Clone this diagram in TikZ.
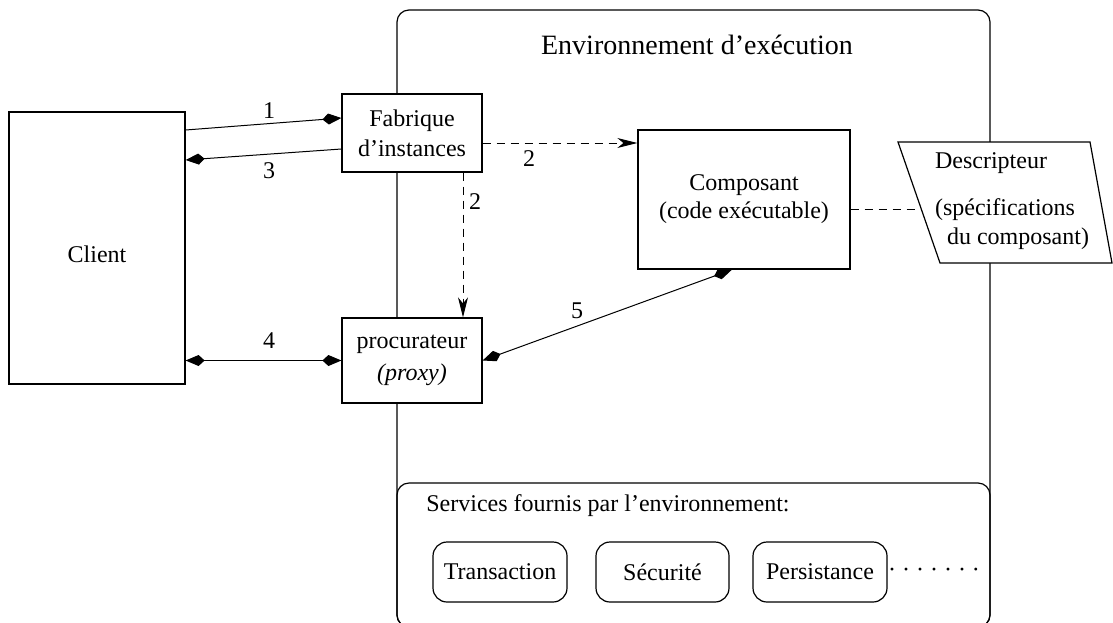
\documentclass[tikz,border=0pt]{standalone}
\usepackage{fontspec}
\setmainfont{Liberation Serif}
\usetikzlibrary{arrows.meta,calc}
\begin{document}
\begin{tikzpicture}[x=0.5pt,y=-0.5pt,
  every node/.style={font=\fontsize{12}{15}\selectfont, inner sep=0pt},
  box/.style={draw, fill=white, line width=0.6pt, align=center},
  rbox/.style={draw, rounded corners=6pt, line width=0.6pt},
  sbox/.style={draw, fill=white, rounded corners=7pt, line width=0.6pt, minimum height=30pt},
  conn/.style={line width=0.5pt},
  kt/.style={conn, -{Kite[length=9.5pt,width=5.5pt,inset=3pt]}},
  bkt/.style={conn, {Kite[length=9.5pt,width=5.5pt,inset=3pt]}-{Kite[length=9.5pt,width=5.5pt,inset=3pt]}},
  dsh/.style={conn, dash pattern=on 4pt off 3pt},
  st/.style={dsh, -{Stealth[length=10pt,width=5pt,inset=3pt]}},
  lbl/.style={font=\fontsize{12}{15}\selectfont}
]
\useasboundingbox (0,0) rectangle (1113,622);

% environment
\node[rbox, minimum width=296.5pt, minimum height=308.5pt] (env) at (693.5,318.5) {};
\node[font=\fontsize{14}{17}\selectfont] (envtitle) at (697,45) {Environnement d'exécution};

% services
\node[rbox, minimum width=296.5pt, minimum height=72pt] (serv) at (693.5,555) {};
\node[anchor=west] (servtitle) at (426,506) {Services fournis par l'environnement:};
\node[sbox, minimum width=67pt] (trans) at (500,572) {Transaction};
\node[sbox, minimum width=66.5pt] (secu) at (662.5,572) {Sécurité};
\node[sbox, minimum width=67pt] (pers) at (820,572) {Persistance};
\node (dots) at (934,573) {· · · · · · ·};

% boxes
\node[box, minimum width=88pt, minimum height=136pt, text height=14pt, text depth=0pt] (client) at (97,248) {Client};
\node[box, minimum width=70pt, minimum height=39pt] (fab) at (412,133) {Fabrique\\d'instances};
\node[box, minimum width=70pt, minimum height=42.5pt] (proc) at (412,360.5) {procurateur\\[1pt]\textit{(proxy)}};
\node[box, minimum width=106pt, minimum height=69.5pt] (comp) at (744,199.5) {Composant\\[-1pt](code exécutable)};

% descripteur
\coordinate (dTL) at (898,142);
\coordinate (dTR) at (1090,142);
\coordinate (dBR) at (1112,263);
\coordinate (dBL) at (940,263);
\draw[fill=white, line width=0.6pt] (dTL) -- (dTR) -- (dBR) -- (dBL) -- cycle;
\node (desc1) at (991,163) {Descripteur};
\node (desc2) at (1005,210) {(spécifications};
\node (desc3) at (1018,239) {du composant)};
\coordinate (dL) at ($(dTL)!0.554!(dBL)$);

% connectors
\draw[kt] ($(client.east)+(0,-118)$) -- ($(fab.west)+(0,-15)$);
\draw[kt] ($(fab.west)+(0,16)$) -- ($(client.east)+(0,-88)$);
\draw[bkt] (client.east |- proc.west) -- (proc.west);
\draw[bkt] ($(comp.south)+(-12,0)$) -- (proc.east);
\coordinate (h2) at ($(fab.east)+(0,10)$);
\draw[st] (h2) -- (h2 -| comp.west);
\coordinate (v2) at ($(fab.south)+(51,0)$);
\draw[st] (v2) -- (v2 |- proc.north);
\draw[dsh] (comp.east |- dL) -- (dL);

% labels
\node[lbl] (l1) at (269,111) {1};
\node[lbl] (l3) at (269,171) {3};
\node[lbl] (l4) at (269,341) {4};
\node[lbl] (l5) at (577,311) {5};
\node[lbl] (l2a) at (529,159) {2};
\node[lbl] (l2b) at (475,202) {2};
\end{tikzpicture}
\end{document}
